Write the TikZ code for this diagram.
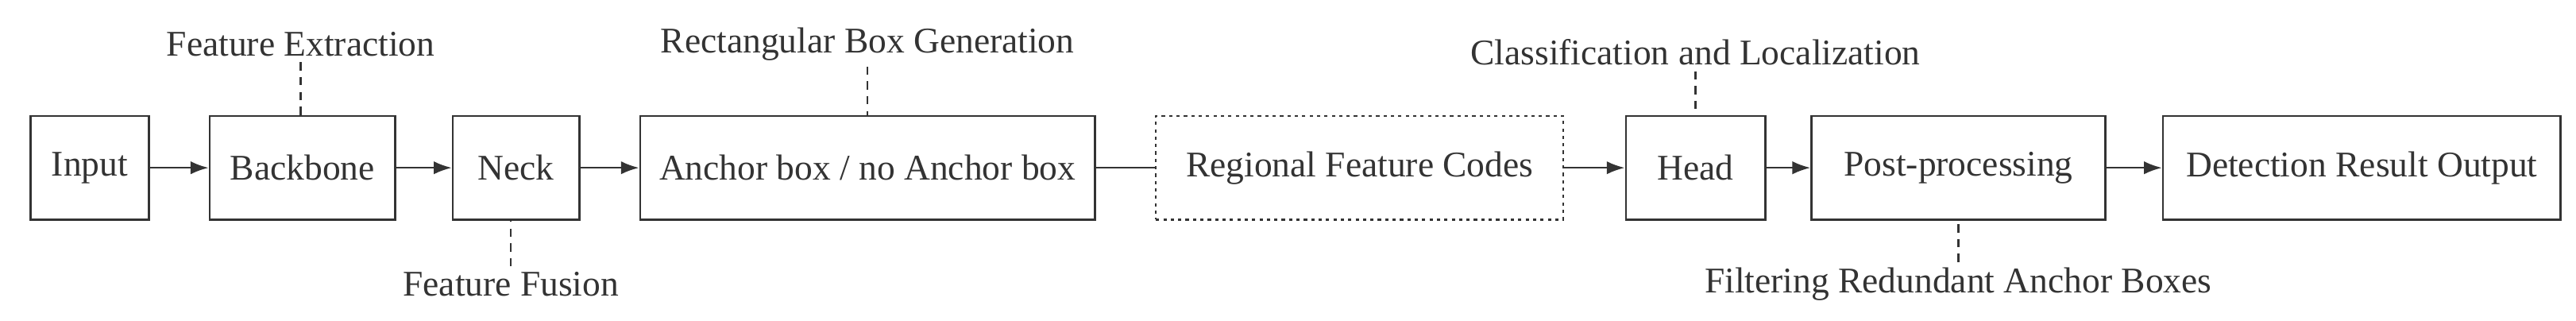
\documentclass[tikz,border=0pt]{standalone}
\usepackage{fontspec}
\setmainfont{Liberation Serif}
\usetikzlibrary{arrows.meta}
\begin{document}
\begin{tikzpicture}[x=1pt,y=-1pt,
  every node/.style={font=\fontsize{22}{26}\selectfont,text=black!80},
  box/.style={draw=black!80,line width=1.2pt,minimum height=63pt,inner sep=0pt,anchor=north west},
  arr/.style={draw=black!80,line width=1.2pt,-{Latex[length=11pt,width=8pt]}},
  dsh/.style={draw=black!80,line width=1.1pt,dash pattern=on 5pt off 4pt}]
\useasboundingbox (0,0) rectangle (1568,195);
\node[box,minimum width=72pt] (in) at (18,70) {Input};
\node[box,minimum width=113pt] (bb) at (127,70) {Backbone};
\node[box,minimum width=77pt] (nk) at (275,70) {Neck};
\node[box,minimum width=277pt] (an) at (389,70) {Anchor box / no Anchor box};
\node[box,minimum width=248pt,dash pattern=on 2pt off 2.5pt] (rf) at (703,70) {Regional Feature Codes};
\node[box,minimum width=85pt] (hd) at (989,70) {Head};
\node[box,minimum width=179pt] (pp) at (1102,70) {Post-processing};
\node[box,minimum width=242pt] (do) at (1316,70) {Detection Result Output};
\draw[arr] (in) -- (bb);
\draw[arr] (bb) -- (nk);
\draw[arr] (nk) -- (an);
\draw[draw=black!80,line width=1.2pt] (an) -- (rf);
\draw[arr] (rf) -- (hd);
\draw[arr] (hd) -- (pp);
\draw[arr] (pp) -- (do);
\node (l1) at (183,27) {Feature Extraction};
\node (l2) at (528,27) {Rectangular Box Generation};
\node (l3) at (1032,32) {Classification and Localization};
\node (l4) at (311,173) {Feature Fusion};
\node (l5) at (1192,173) {Filtering Redundant Anchor Boxes};
\draw[dsh] (l1.south) -- (bb.north -| l1.south);
\draw[dsh] (l2.south) -- (an.north -| l2.south);
\draw[dsh] (l3.south) -- (hd.north -| l3.south);
\draw[dsh] (l4.north) -- (nk.south -| l4.north);
\draw[dsh] (l5.north) -- (pp.south -| l5.north);
\end{tikzpicture}
\end{document}
